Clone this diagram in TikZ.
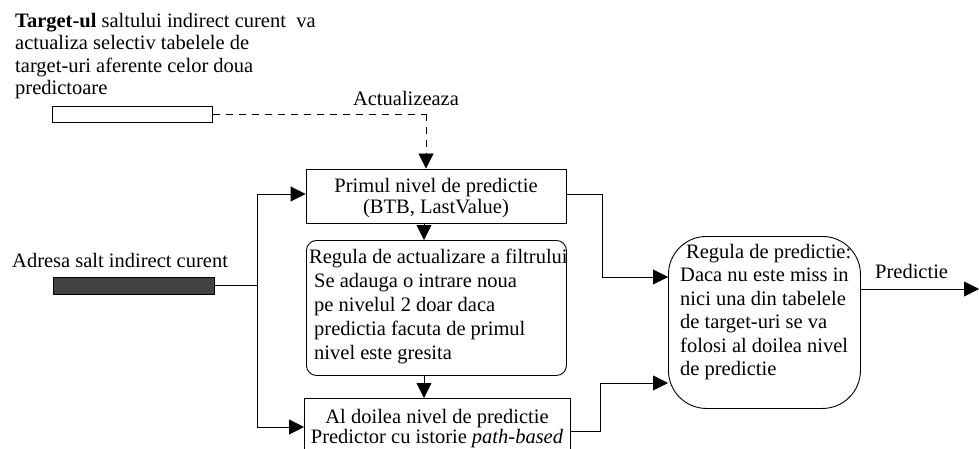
\documentclass[tikz,border=0pt]{standalone}
\usepackage{fontspec}
\setmainfont{Liberation Serif}
\usetikzlibrary{arrows.meta,calc}
\begin{document}
\begin{tikzpicture}[x=1pt,y=-1pt,
  every node/.style={font=\fontsize{20.5}{23}\selectfont, inner sep=0pt},
  line/.style={line width=0.9pt, black},
  arr/.style={line, -{Triangle[length=15pt,width=15pt]}},
  dashline/.style={arr, dash pattern=on 7pt off 6pt},
  sqbox/.style={draw, line width=0.9pt, rectangle},
  rbox/.style={draw, line width=0.9pt, rectangle, rounded corners=10pt},
  bigrbox/.style={draw, line width=0.9pt, rectangle, rounded corners=38pt},
  lbl/.style={anchor=base west}
]
\clip (0,0) rectangle (979,449);
\fill[white] (0,0) rectangle (979,449);

% note on the update bar
\node[anchor=north west, align=left, font=\fontsize{20.5}{22.5}\selectfont] (note) at (15,13)
  {\textbf{Target-ul} saltului indirect curent\ \ va\\
   actualiza selectiv tabelele de\\
   target-uri aferente celor doua\\
   predictoare};

% target bar and incoming address bar
\node[draw, line width=0.9pt, fill=white, minimum width=160pt, minimum height=16pt, anchor=north west] (wbar) at (52,106) {};
\node[draw, line width=0.9pt, fill=black!74, minimum width=161pt, minimum height=17pt, anchor=north west] (dbar) at (53,277) {};
\node[lbl] (addr) at (12,267) {Adresa salt indirect curent};

% prediction levels
\node[sqbox, minimum width=260pt, minimum height=54pt] (box1) at (436,196) {};
\node[anchor=base] (lvl1a) at (436,193) {Primul nivel de predictie};
\node[anchor=base] (lvl1b) at (436,213) {(BTB, LastValue)};
\node[rbox, minimum width=260pt, minimum height=135pt, anchor=north west] (box2) at (306,240) {};
\node[anchor=north west, align=left, font=\fontsize{20.5}{24}\selectfont] (rule2) at (309,249)
  {Regula de actualizare a filtrului\\
   \hspace{5pt}Se adauga o intrare noua\\
   \hspace{5pt}pe nivelul 2 doar daca\\
   \hspace{5pt}predictia facuta de primul\\
   \hspace{5pt}nivel este gresita};
\node[sqbox, minimum width=266pt, minimum height=56pt, anchor=north west] (box3) at (304,398) {};
\node[anchor=base] (lvl2a) at (437,423) {Al doilea nivel de predictie};
\node[anchor=base] (lvl2b) at (437,443) {Predictor cu istorie \textit{path-based}};

% prediction rule
\node[bigrbox, minimum width=192pt, minimum height=172pt, anchor=north west] (box4) at (668,236) {};
\node[anchor=north west, align=left, font=\fontsize{20.5}{23.4}\selectfont] (rule4) at (680,244)
  {\hspace{6pt}Regula de predictie:\\
   Daca nu este miss in\\
   nici una din tabelele\\
   de target-uri se va\\
   folosi al doilea nivel\\
   de predictie};

% labels
\node[anchor=base] (upd) at (406,106) {Actualizeaza};
\node[lbl] (pred) at (875,278) {Predictie};

% helper points
\coordinate (dn) at (426,114);
\coordinate (ax) at (424,0);
\coordinate (split) at (257,285);
\coordinate (in1) at (257,194);
\coordinate (in3) at (257,427);
\coordinate (j1) at (602,277);
\coordinate (j3a) at (600,431);
\coordinate (j3b) at (600,383);
\coordinate (out) at (979,289);

% connectors
\draw[line, dash pattern=on 7pt off 6pt] (wbar.east |- dn) -- (dn);
\draw[dashline] (dn) -- (dn |- box1.north);
\draw[arr] (ax |- box1.south) -- (ax |- box2.north);
\draw[arr] (ax |- box2.south) -- (ax |- box3.north);
\draw[line] (dbar.east |- split) -- (split);
\draw[line] (in1) -- (in3);
\draw[arr] (in1) -- (in1 -| box1.west);
\draw[arr] (in3) -- (in3 -| box3.west);
\draw[arr] (box1.east |- in1) -| (j1) -- (j1 -| box4.west);
\draw[arr] (box3.east |- j3a) -- (j3a) -- (j3b) -- (j3b -| box4.west);
\draw[arr] (out -| box4.east) -- (out);
\end{tikzpicture}
\end{document}
